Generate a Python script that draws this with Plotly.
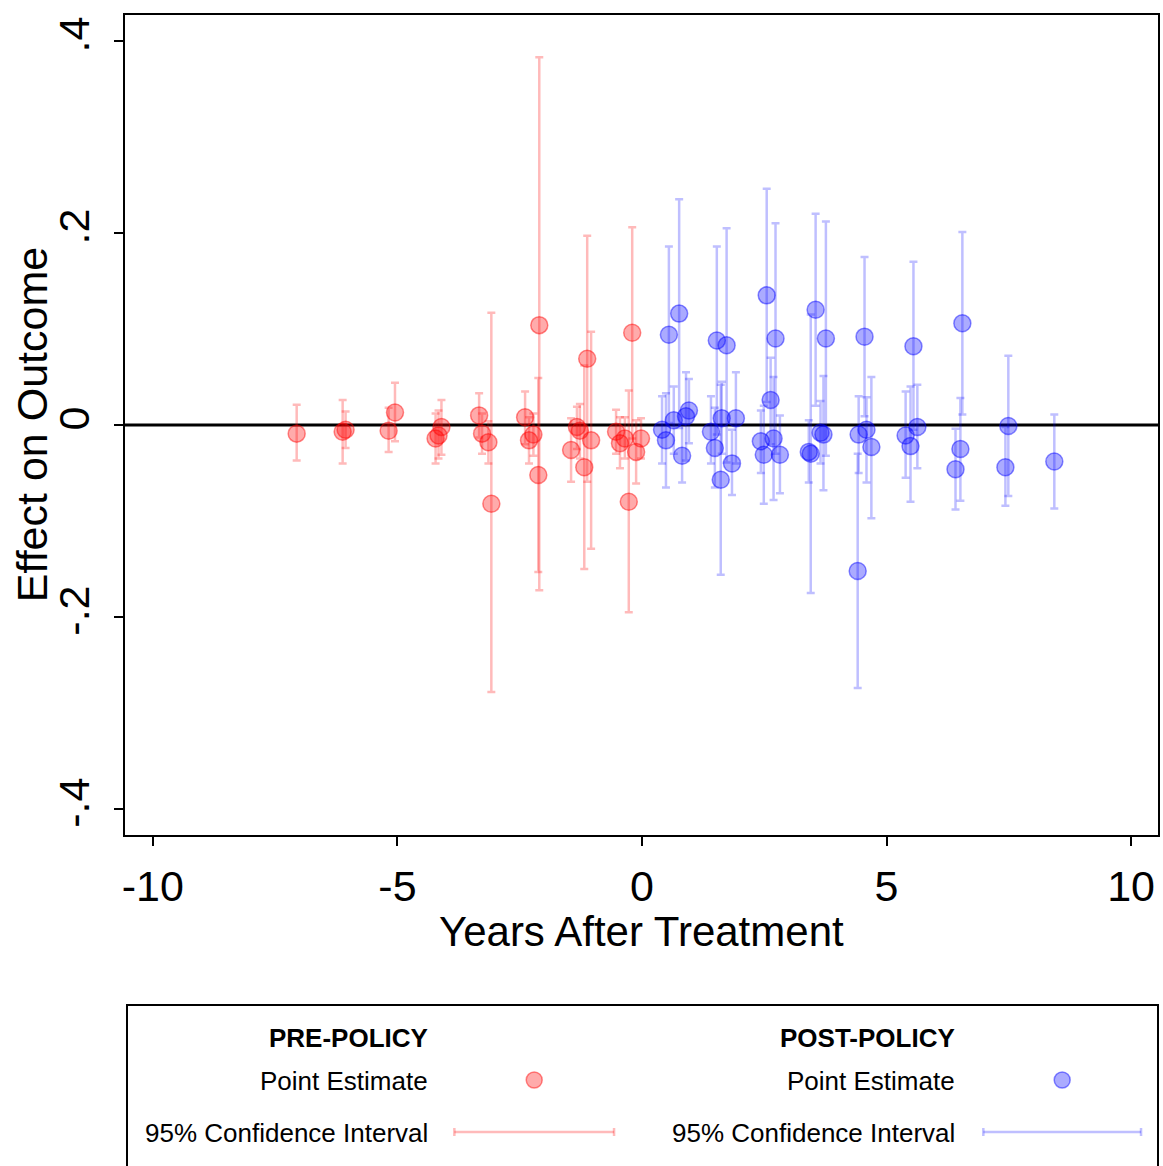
import plotly.graph_objects as go

# ---- Pre-policy estimates: event time, point estimate, 95% CI bounds ----
pre_x = [-7.06, -6.12, -6.06, -5.05, -5.18, -4.22, -4.10, -4.16,
         -3.33, -3.27, -3.14, -3.08,
         -2.39, -2.31, -2.22, -2.10, -2.12,
         -1.45, -1.33, -1.27, -1.18, -1.12, -1.04,
         -0.53, -0.45, -0.35, -0.20, -0.27, -0.12, -0.02]
pre_y = [-0.009, -0.007, -0.005, 0.013, -0.006, -0.014, -0.002, -0.011,
         0.010, -0.009, -0.018, -0.082,
         0.008, -0.016, -0.010, 0.104, -0.052,
         -0.026, -0.002, -0.006, -0.044, 0.069, -0.016,
         -0.007, -0.019, -0.014, 0.096, -0.080, -0.028, -0.014]
pre_lo = [-0.037, -0.040, -0.024, -0.017, -0.028, -0.040, -0.031, -0.035,
          -0.013, -0.030, -0.040, -0.278,
          -0.020, -0.040, -0.032, -0.172, -0.153,
          -0.059, -0.025, -0.035, -0.150, -0.059, -0.129,
          -0.030, -0.045, -0.035, -0.014, -0.195, -0.061, -0.035]
pre_hi = [0.021, 0.026, 0.014, 0.044, 0.018, 0.012, 0.026, 0.015,
          0.033, 0.012, 0.004, 0.117,
          0.035, 0.008, 0.012, 0.383, 0.049,
          0.007, 0.019, 0.022, 0.062, 0.197, 0.097,
          0.016, 0.008, 0.008, 0.206, 0.036, 0.005, 0.007]

# ---- Post-policy estimates ----
post_x = [0.41, 0.49, 0.55, 0.65, 0.76, 0.82, 0.90, 0.96,
          1.41, 1.49, 1.53, 1.63, 1.61, 1.73, 1.84, 1.92,
          2.43, 2.49, 2.55, 2.63, 2.69, 2.73, 2.82,
          3.41, 3.45, 3.55, 3.65, 3.71, 3.76,
          4.41, 4.43, 4.55, 4.59, 4.69,
          5.39, 5.49, 5.55, 5.63,
          6.41, 6.51, 6.55,
          7.43, 7.49,
          8.43]
post_y = [-0.005, -0.016, 0.094, 0.005, 0.116, -0.032, 0.009, 0.015,
          -0.007, -0.024, 0.088, 0.007, -0.057, 0.083, -0.040, 0.007,
          -0.017, -0.031, 0.135, 0.026, -0.014, 0.090, -0.031,
          -0.028, -0.030, 0.120, -0.008, -0.010, 0.090,
          -0.152, -0.010, 0.092, -0.005, -0.023,
          -0.011, -0.022, 0.082, -0.002,
          -0.046, -0.025, 0.106,
          -0.044, -0.001,
          -0.038]
post_lo = [-0.040, -0.065, 0.002, -0.030, -0.003, -0.060, -0.037, -0.019,
           -0.040, -0.065, -0.010, -0.030, -0.156, -0.039, -0.073, -0.040,
           -0.050, -0.082, 0.024, -0.020, -0.078, -0.030, -0.071,
           -0.060, -0.175, 0.020, -0.040, -0.068, -0.032,
           -0.274, -0.050, 0.009, -0.060, -0.097,
           -0.055, -0.080, -0.005, -0.045,
           -0.088, -0.079, 0.011,
           -0.084, -0.074,
           -0.087]
post_hi = [0.030, 0.033, 0.186, 0.040, 0.235, 0.000, 0.055, 0.048,
           0.030, 0.018, 0.186, 0.045, 0.042, 0.205, -0.005, 0.055,
           0.015, 0.020, 0.246, 0.070, 0.050, 0.210, 0.010,
           0.005, 0.115, 0.220, 0.025, 0.051, 0.212,
           -0.030, 0.030, 0.175, 0.029, 0.050,
           0.035, 0.040, 0.170, 0.042,
           -0.004, 0.028, 0.201,
           -0.002, 0.072,
           0.011]

x_ticks = [-10, -5, 0, 5, 10]
x_tick_text = ["-10", "-5", "0", "5", "10"]
y_ticks = [-0.4, -0.2, 0, 0.2, 0.4]
y_tick_text = ["-.4", "-.2", "0", ".2", ".4"]

FONT = "Liberation Sans, Arial, sans-serif"
RED_FILL, RED_EDGE, RED_CI = "rgba(255,0,0,0.33)", "rgba(255,0,0,0.45)", "rgba(255,0,0,0.27)"
BLUE_FILL, BLUE_EDGE, BLUE_CI = "rgba(0,0,255,0.33)", "rgba(0,0,255,0.45)", "rgba(0,0,255,0.25)"


def series(xs, ys, lo, hi, fill, edge, ci, name):
    return go.Scatter(
        x=xs, y=ys, mode="markers", name=name, showlegend=False,
        marker=dict(size=17, color=fill, line=dict(color=edge, width=1.5)),
        error_y=dict(type="data", symmetric=False,
                     array=[h - v for h, v in zip(hi, ys)],
                     arrayminus=[v - l for v, l in zip(ys, lo)],
                     color=ci, thickness=2.5, width=4),
    )


fig = go.Figure()
fig.add_trace(series(pre_x, pre_y, pre_lo, pre_hi, RED_FILL, RED_EDGE, RED_CI, "Pre-policy"))
fig.add_trace(series(post_x, post_y, post_lo, post_hi, BLUE_FILL, BLUE_EDGE, BLUE_CI, "Post-policy"))

W, H = 1163, 1166
ML, MR, MT, MB = 125, 3, 15, 331
PW, PH = W - ML - MR, H - MT - MB


def px(x):
    return (x - ML) / PW


def py(y):
    return (H - MB - y) / PH


# zero reference line
fig.add_shape(type="line", xref="paper", yref="y", x0=0, x1=1, y0=0, y1=0,
              line=dict(color="black", width=3), layer="below")

# axis titles
annots = [
    dict(xref="paper", yref="paper", x=px(643), y=py(932), xanchor="center", yanchor="middle",
         showarrow=False, text="Years After Treatment", borderpad=0,
         font=dict(family=FONT, size=42, color="black")),
    dict(xref="paper", yref="paper", x=px(32), y=py(425), xanchor="center", yanchor="middle",
         showarrow=False, text="Effect on Outcome", textangle=-90,
         font=dict(family=FONT, size=43, color="black")),
]

# ---- legend panel drawn below the plot ----
shapes = [dict(type="rect", xref="paper", yref="paper",
               x0=px(127), x1=px(1160), y0=py(1005), y1=py(1172),
               line=dict(color="black", width=2), fillcolor="rgba(0,0,0,0)")]
for text_right, mark_x, line_x0, line_x1, head, fill, edge, ci in [
    (431, 535, 455, 615, "PRE-POLICY", RED_FILL, RED_EDGE, RED_CI),
    (959, 1064, 985, 1143, "POST-POLICY", BLUE_FILL, BLUE_EDGE, BLUE_CI),
]:
    for txt, yy, bold in [(head, 1038, True), ("Point Estimate", 1081, False),
                          ("95% Confidence Interval", 1133, False)]:
        annots.append(dict(xref="paper", yref="paper", x=px(text_right), y=py(yy),
                           xanchor="right", yanchor="middle", showarrow=False,
                           text=f"<b>{txt}</b>" if bold else txt,
                           font=dict(family=FONT, size=26, color="black")))
    shapes.append(dict(type="circle", xref="paper", yref="paper",
                       x0=px(mark_x - 8), x1=px(mark_x + 8), y0=py(1080 + 8), y1=py(1080 - 8),
                       fillcolor=fill, line=dict(color=edge, width=1.5)))
    shapes.append(dict(type="line", xref="paper", yref="paper",
                       x0=px(line_x0), x1=px(line_x1), y0=py(1132), y1=py(1132),
                       line=dict(color=ci, width=2.5)))
    for cx in (line_x0, line_x1):
        shapes.append(dict(type="line", xref="paper", yref="paper",
                           x0=px(cx), x1=px(cx), y0=py(1128), y1=py(1136),
                           line=dict(color=ci, width=2.5)))

for s in shapes:
    fig.add_shape(**s)

axis_common = dict(showline=True, linecolor="black", linewidth=2, mirror=True,
                   ticks="outside", ticklen=9, tickwidth=2, tickcolor="black",
                   showgrid=False, zeroline=False,
                   tickfont=dict(family=FONT, size=43, color="black"))

fig.update_layout(
    width=W, height=H,
    margin=dict(l=ML, r=MR, t=MT, b=MB),
    paper_bgcolor="white", plot_bgcolor="white",
    annotations=annots,
    xaxis=dict(range=[-10.57, 10.55], tickvals=x_ticks, ticktext=x_tick_text,
               ticklabelstandoff=3, **axis_common),
    yaxis=dict(range=[-0.427, 0.427], tickvals=y_ticks, ticktext=y_tick_text,
               tickangle=-90, ticklabelstandoff=8, **axis_common),
)

fig.write_html("out.html")
